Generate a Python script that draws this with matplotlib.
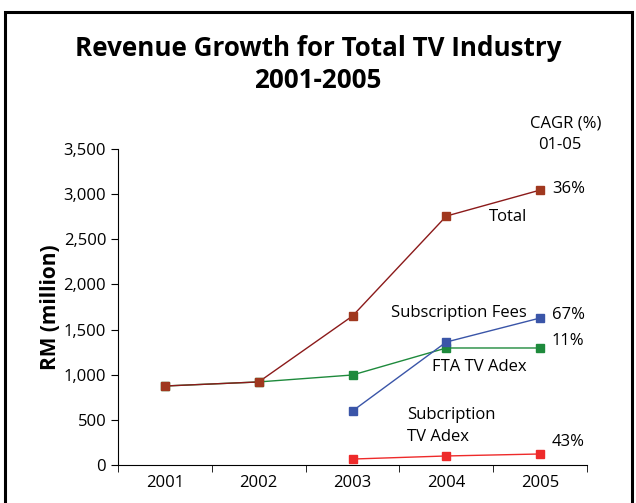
import matplotlib.pyplot as plt
from matplotlib.patches import Rectangle

years = ['2001', '2002', '2003', '2004', '2005']
total = [875, 920, 1650, 2757, 3045]
fta_adex = [875, 920, 997, 1296, 1296]
sub_fees = [None, None, 598, 1362, 1628]
sub_adex = [None, None, 66, 100, 122]
cagr = ['36%', '67%', '11%', '43%']

plt.rcParams['font.family'] = ['Open Sans', 'DejaVu Sans']

fig = plt.figure(figsize=(6.36, 5.03), dpi=100)
fig.patches.append(Rectangle((5/636, -0.1), 627/636, 1 - 12/503 + 0.1, transform=fig.transFigure,
                             fill=False, edgecolor='black', linewidth=2.2))
ax = fig.add_axes([118/636, 1 - 465/503, 469/636, 316/503])

x = list(range(len(years)))


def clean(vals):
    xs = [i for i, v in zip(x, vals) if v is not None]
    ys = [v for v in vals if v is not None]
    return xs, ys


series = [
    (fta_adex, '#1e8a3c', '#1e8a3c'),
    (sub_fees, '#3a55a8', '#3a55a8'),
    (sub_adex, '#ee2a2a', '#ee2a2a'),
    (total, '#8b1a1a', '#a0381f'),
]
for vals, lc, mc in series:
    xs, ys = clean(vals)
    ax.plot(xs, ys, color=lc, linewidth=1.0, marker='s', markersize=6,
            markerfacecolor=mc, markeredgecolor=mc)

ax.set_xlim(-0.5, 4.5)
ax.set_ylim(0, 3500)
ax.set_yticks(range(0, 3501, 500))
ax.set_yticklabels([f'{v:,}' for v in range(0, 3501, 500)])
ax.set_xticks(x)
ax.set_xticklabels(years)
ax.set_xticks([i - 0.5 for i in range(6)], minor=True)
ax.tick_params(axis='x', which='major', length=0, pad=7, labelsize=12)
ax.tick_params(axis='x', which='minor', length=5, direction='out')
ax.tick_params(axis='y', length=5, direction='out', labelsize=12)
for s in ['top', 'right']:
    ax.spines[s].set_visible(False)
ax.set_ylabel('RM (million)', fontsize=15, fontweight='bold')
ax.yaxis.set_label_coords(-0.122, 0.5)

fig.text(0.5, 1 - 48/503, 'Revenue Growth for Total TV Industry', ha='center', va='center',
         fontsize=18.7, fontweight='bold')
fig.text(0.5, 1 - 81/503, '2001-2005', ha='center', va='center', fontsize=18.7, fontweight='bold')

fig.text(566/636, 1 - 124/503, 'CAGR (%)', ha='center', va='center', fontsize=12)
fig.text(560/636, 1 - 145/503, '01-05', ha='center', va='center', fontsize=12)

ypos = [189, 315, 341, 442]
for lab, yp in zip(cagr, ypos):
    fig.text(552/636, 1 - yp/503, lab, ha='left', va='center', fontsize=12)

fig.text(489/636, 1 - 217/503, 'Total', ha='left', va='center', fontsize=12)
fig.text(391/636, 1 - 313/503, 'Subscription Fees', ha='left', va='center', fontsize=12)
fig.text(432/636, 1 - 367/503, 'FTA TV Adex', ha='left', va='center', fontsize=12)
fig.text(407/636, 1 - 415/503, 'Subcription', ha='left', va='center', fontsize=12)
fig.text(407/636, 1 - 437/503, 'TV Adex', ha='left', va='center', fontsize=12)

fig.savefig('out.png', dpi=100)
